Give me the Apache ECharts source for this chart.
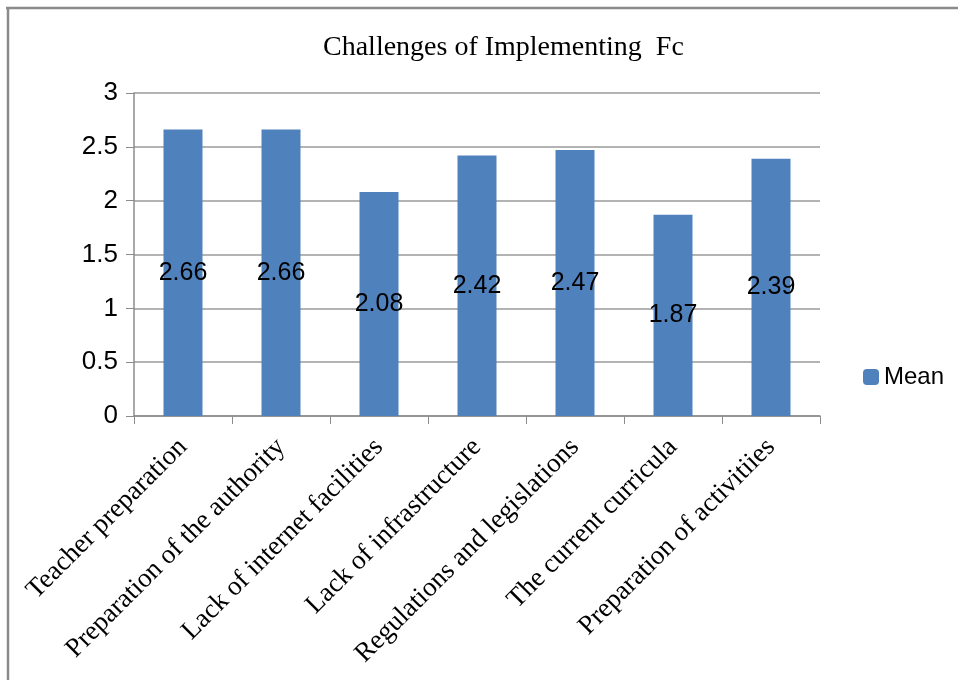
<!DOCTYPE html>
<html>
<head>
<meta charset="utf-8">
<script src="https://cdn.jsdelivr.net/npm/echarts@6/dist/echarts.min.js"></script>
<style>
html,body{margin:0;padding:0;background:#fff;}
#c{width:958px;height:680px;}
</style>
</head>
<body>
<div id="c"></div>
<script>
const categories = ["Teacher preparation","Preparation of the authority","Lack of internet facilities","Lack of infrastructure","Regulations and legislations","The current curricula","Preparation of activitiies"];
const meanValues = [2.66, 2.66, 2.08, 2.42, 2.47, 1.87, 2.39];
const yTicks = [0, 0.5, 1, 1.5, 2, 2.5, 3];

const chart = echarts.init(document.getElementById('c'), null, {renderer:'canvas'});
chart.setOption({
  animation:false,
  backgroundColor:'#fff',
  title:{
    text:'Challenges of Implementing  Fc',
    left:318, top:29,
    textStyle:{fontFamily:'Liberation Serif', fontWeight:'normal', fontSize:28, color:'#000'}
  },
  legend:{
    data:['Mean'], left:858, top:360, orient:'vertical',
    itemWidth:16, itemHeight:16, itemGap:8,
    textStyle:{fontFamily:'Liberation Sans', fontSize:24, color:'#000'}
  },
  grid:{left:134, right:138, top:93, bottom:264, containLabel:false},
  xAxis:{
    type:'category', data:categories,
    axisLine:{lineStyle:{color:'#8c8c8c', width:1.5}},
    axisTick:{show:true, length:8, alignWithLabel:false, lineStyle:{color:'#8c8c8c'}},
    axisLabel:{interval:0, rotate:45, margin:27, fontFamily:'Liberation Serif', fontSize:27, color:'#000'}
  },
  yAxis:{
    type:'value', min:yTicks[0], max:yTicks[yTicks.length-1], interval:0.5,
    axisLine:{show:true, lineStyle:{color:'#8c8c8c', width:1.5}},
    axisTick:{show:true, length:8, lineStyle:{color:'#8c8c8c'}},
    splitLine:{show:true, lineStyle:{color:'#9a9a9a', width:1.5}},
    axisLabel:{margin:16, fontFamily:'Liberation Sans', fontSize:26, color:'#000',
      formatter:v=>String(v)}
  },
  series:[{
    name:'Mean', type:'bar', data:meanValues, barWidth:39,
    itemStyle:{color:'#4F81BD'},
    label:{show:true, position:'inside', fontFamily:'Liberation Sans', fontSize:25, color:'#000'}
  }],
  graphic:[
    {type:'line', shape:{x1:6, y1:8, x2:958, y2:8}, style:{stroke:'#8a8a8a', lineWidth:2.5}, silent:true},
    {type:'line', shape:{x1:8, y1:8, x2:8, y2:680}, style:{stroke:'#8a8a8a', lineWidth:2.5}, silent:true}
  ]
});
</script>
</body>
</html>
